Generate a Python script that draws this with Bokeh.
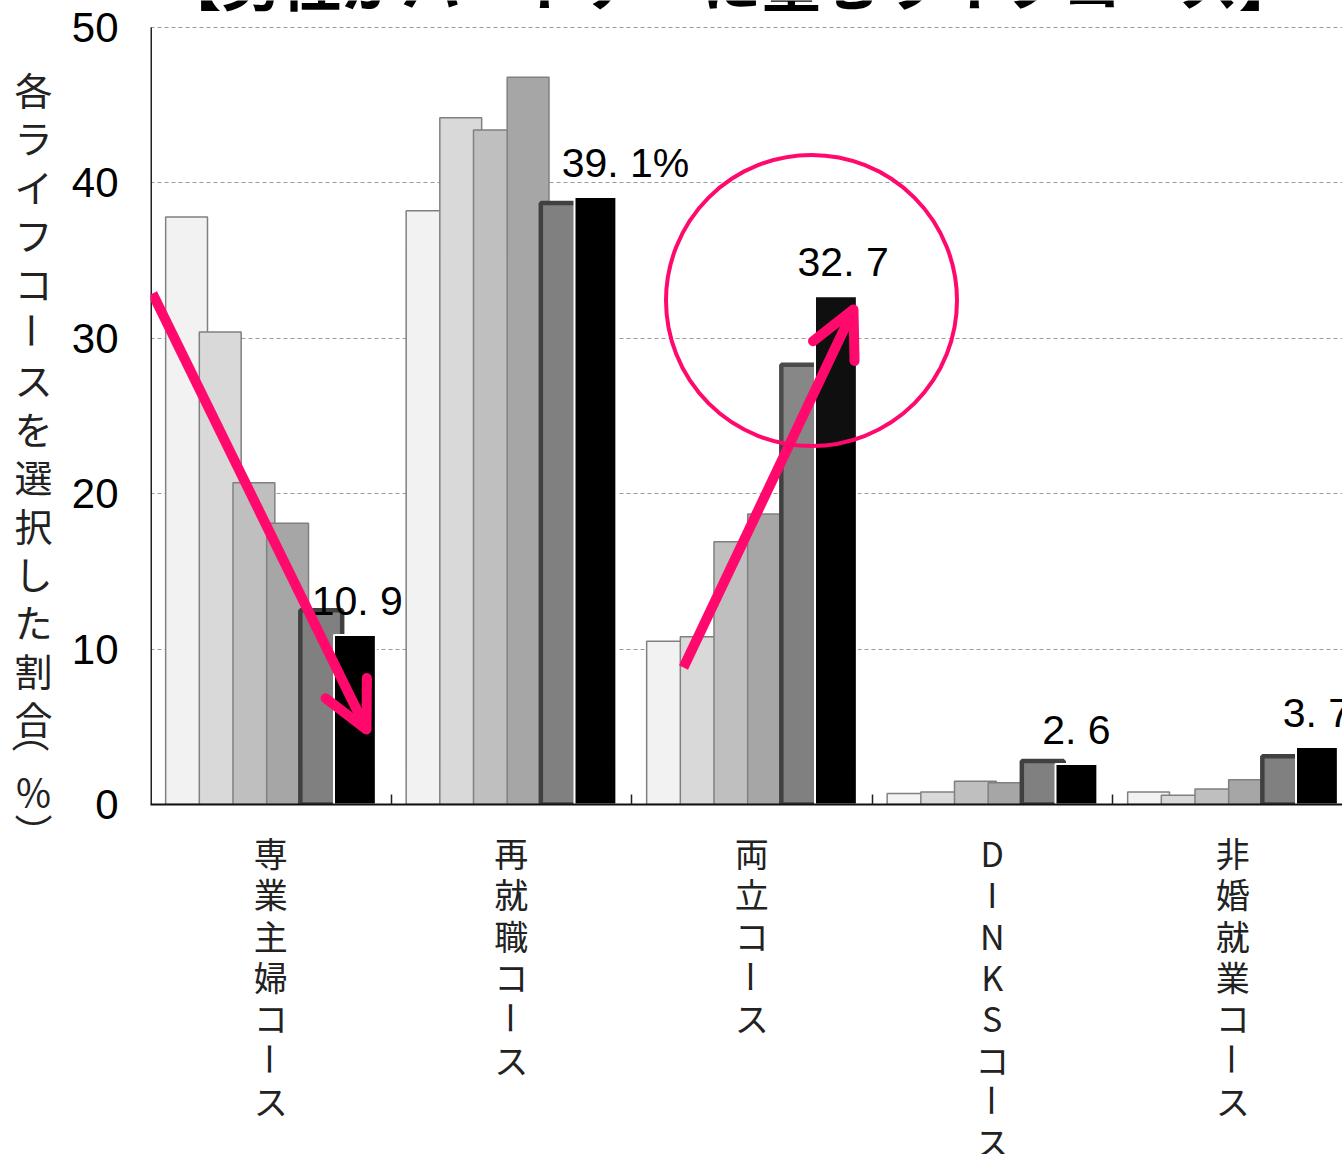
import math
from bokeh.plotting import figure
from bokeh.layouts import row, column
from bokeh.models import ColumnDataSource, Label, Arrow, OpenHead, FixedTicker, Range1d
from bokeh.core.properties import value
from bokeh.embed import file_html
from bokeh.resources import INLINE

# ---------------- data ----------------
TITLE = "【男性がパートナーに望むライフコース】"
Y_LABEL = "各ライフコースを選択した割合（％）"
CATEGORIES = ["専業主婦コース", "再就職コース", "両立コース", "DINKSコース", "非婚就業コース"]
SERIES_1 = [37.8, 38.2, 10.5, 0.7, 0.8]
SERIES_2 = [30.4, 44.2, 10.8, 0.8, 0.6]
SERIES_3 = [20.7, 43.4, 16.9, 1.5, 1.0]
SERIES_4 = [18.1, 46.8, 18.7, 1.4, 1.6]
SERIES_5 = [12.5, 38.7, 28.3, 2.8, 3.1]
SERIES_6 = [10.9, 39.1, 32.7, 2.6, 3.7]
VALUE_LABELS = ["10. 9", "39. 1%", "32. 7", "2. 6", "3. 7"]
Y_TICKS = [0, 10, 20, 30, 40, 50]
SERIES = [SERIES_1, SERIES_2, SERIES_3, SERIES_4, SERIES_5, SERIES_6]

# ---------------- styles / layout ----------------
FILLS = ["#f2f2f2", "#d9d9d9", "#bfbfbf", "#a6a6a6", "#808080", "#000000"]
LINES = ["#808080", "#808080", "#808080", "#808080", "#404040", "#ffffff"]
LINE_W = [1.5, 1.5, 1.5, 1.5, 4.5, 2]
PINK = "#ff0a6c"
CJK = "Noto Sans CJK JP"
NUM = "Liberation Sans"

TOTAL_W, TOTAL_H = 1342, 1154
LEFT_W = 60                      # strip holding the vertical y title
MAIN_H = 830                     # main plot height (frame bottom at 804)
FRAME_L, FRAME_T, FRAME_B = 150, 27, 804
PX_PER_CAT = 240.5
PX_PER_Y = (FRAME_B - FRAME_T) / 50.0
X_END = (TOTAL_W - FRAME_L) / PX_PER_CAT
Y_END = 50 + FRAME_T / PX_PER_Y

def dx(px):
    return (px - FRAME_L) / PX_PER_CAT

def dy(py):
    return (FRAME_B - py) / PX_PER_Y

BAR_STEP = 0.14
BAR_W = 0.174

def bare(fig):
    fig.axis.visible = False
    fig.grid.visible = False
    fig.outline_line_color = None
    fig.background_fill_color = "white"
    fig.border_fill_color = "white"

# ---------------- main plot ----------------
p = figure(width=TOTAL_W - LEFT_W, height=MAIN_H, output_backend="svg", toolbar_location=None,
           x_range=Range1d(0, X_END), y_range=Range1d(0, Y_END),
           min_border_left=FRAME_L - LEFT_W, min_border_right=0,
           min_border_top=0, min_border_bottom=MAIN_H - FRAME_B)
p.outline_line_color = None
p.background_fill_color = "white"
p.border_fill_color = "white"

p.xgrid.visible = False
p.ygrid.ticker = FixedTicker(ticks=Y_TICKS)
p.ygrid.grid_line_color = "#9a9a9a"
p.ygrid.grid_line_dash = "4 3"
p.ygrid.grid_line_width = 1

p.yaxis.ticker = FixedTicker(ticks=Y_TICKS)
p.yaxis.axis_line_color = None
p.yaxis.major_tick_out = 0
p.yaxis.major_tick_in = 0
p.yaxis.minor_tick_line_color = None
p.yaxis.major_label_standoff = 32
p.yaxis.major_label_text_font = NUM
p.yaxis.major_label_text_font_size = "42px"
p.yaxis.major_label_text_color = "#000000"

p.xaxis.ticker = FixedTicker(ticks=[1, 2, 3, 4])
p.xaxis.axis_line_color = "#111111"
p.xaxis.axis_line_width = 2
p.xaxis.major_tick_in = 10
p.xaxis.major_tick_out = 0
p.xaxis.major_tick_line_color = "#222222"
p.xaxis.major_tick_line_width = 1.5
p.xaxis.minor_tick_line_color = None
p.xaxis.major_label_overrides = {1: "", 2: "", 3: "", 4: ""}
p.xaxis.major_label_text_font_size = "0px"
p.xaxis.major_label_standoff = 0

# left axis line (from 0 to 50 only)
p.segment(x0=[0], y0=[0], x1=[0], y1=[50], line_color="#222222", line_width=3)

# bars
for j, vals in enumerate(SERIES):
    xs = [i + 0.5 + (j - 2.5) * BAR_STEP for i in range(len(CATEGORIES))]
    src = ColumnDataSource(dict(x=xs, top=vals))
    p.vbar(x="x", top="top", bottom=0, width=BAR_W, source=src,
           fill_color=FILLS[j], line_color=LINES[j], line_width=LINE_W[j])

# value labels on the last series
LABEL_DX = [0.01, 0.125, 0.03, 0.0, 0.0]
LABEL_GAP_PX = 34
for i, (v, t) in enumerate(zip(SERIES_6, VALUE_LABELS)):
    p.add_layout(Label(x=i + 0.5 + 2.5 * BAR_STEP + LABEL_DX[i], y=v + LABEL_GAP_PX / PX_PER_Y,
                       text=t, text_align="center", text_baseline="alphabetic",
                       text_font=NUM, text_font_size="41px", text_color="#000000"))

# highlight circle
p.ellipse(x=[dx(811)], y=[dy(300)], width=291, height=291,
          width_units="screen", height_units="screen",
          fill_color="white", fill_alpha=0.06, line_color=PINK, line_width=4)

# arrows
for (x0, y0, x1, y1) in [(152, 293, 366, 729), (683, 667, 853, 309)]:
    p.add_layout(Arrow(x_start=dx(x0), y_start=dy(y0), x_end=dx(x1), y_end=dy(y1),
                       line_color=PINK, line_width=10, line_cap="butt",
                       end=OpenHead(size=46, line_color=PINK, line_width=10,
                                    line_cap="round", line_join="round")))

# title, cut by the top edge as in the original (only its lower edge shows)
p.text(x=[dx(731)], y=[dy(-21)], text=[TITLE], text_align="center", text_baseline="alphabetic",
       text_font=value(CJK), text_font_size="60px", text_font_style="bold",
       text_color="#000000")

ROTATED = {"ー"}
VERTICAL_FORMS = {"（": "︵", "）": "︶"}

def vert(ch):
    return VERTICAL_FORMS.get(ch, ch)

# ---------------- left strip: vertical y title ----------------
left = figure(width=LEFT_W, height=TOTAL_H, output_backend="svg", toolbar_location=None,
              x_range=Range1d(0, LEFT_W), y_range=Range1d(0, TOTAL_H),
              min_border_left=0, min_border_right=0, min_border_top=0, min_border_bottom=0)
bare(left)
YL_CENTERS = [88 + 48.4 * k for k in range(14)] + [730, 790, 830]
YL_X = [33] * 14 + [30, 33, 33]
chars = list(Y_LABEL)
left.text(x=YL_X, y=[TOTAL_H - c for c in YL_CENTERS], text=[vert(c) for c in chars],
          angle=[-math.pi / 2 if ch in ROTATED else 0 for ch in chars],
          text_align="center", text_baseline="middle", text_font=value(CJK),
          text_font_size="38px", text_color="#222222")

# ---------------- bottom strip: vertical category labels ----------------
BOT_H = TOTAL_H - MAIN_H
bottom = figure(width=TOTAL_W - LEFT_W, height=BOT_H, output_backend="svg", toolbar_location=None,
                x_range=p.x_range, y_range=Range1d(0, BOT_H),
                min_border_left=FRAME_L - LEFT_W, min_border_right=0,
                min_border_top=0, min_border_bottom=0)
bare(bottom)
bx, by, bt, ba = [], [], [], []
for i, cat in enumerate(CATEGORIES):
    for k, ch in enumerate(cat):
        bx.append(i + 0.5)
        by.append(TOTAL_H - (852 + 41.3 * k))
        bt.append(vert(ch))
        ba.append(-math.pi / 2 if ch in ROTATED else 0)
bottom.text(x=bx, y=by, text=bt, angle=ba, text_align="center", text_baseline="middle",
            text_font=value(CJK), text_font_size="34px", text_color="#222222")

layout = row(left, column(p, bottom))
open("out.html", "w").write(file_html(layout, INLINE))
